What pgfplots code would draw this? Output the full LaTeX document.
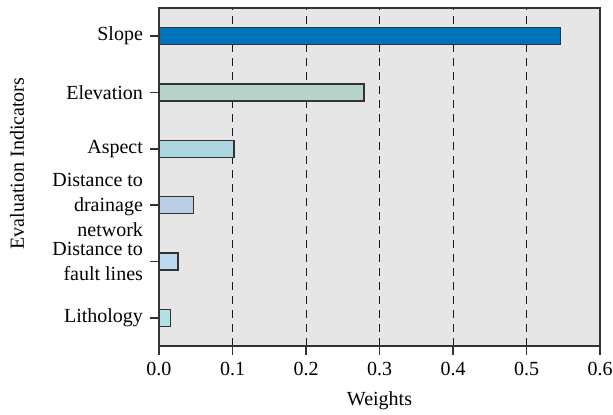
\documentclass[border=0pt]{standalone}
\usepackage{fontspec}
\setmainfont{Liberation Serif}
\usepackage{pgfplots}
\pgfplotsset{compat=1.18}
\definecolor{bgc}{HTML}{E6E6E6}
\definecolor{axc}{HTML}{333333}
\definecolor{cslope}{HTML}{0072BC}
\definecolor{celev}{HTML}{B6D4CC}
\definecolor{caspect}{HTML}{ADD6E0}
\definecolor{cdrain}{HTML}{B9CFE6}
\definecolor{cfault}{HTML}{BBD8EE}
\definecolor{clitho}{HTML}{B4DFE4}
\begin{document}
\fontsize{10}{12.5}\selectfont
\begin{tikzpicture}
\begin{axis}[
  scale only axis,
  width=220.5pt, height=169pt,
  xmin=0, xmax=0.6, ymin=-0.5, ymax=5.5,
  axis background/.style={fill=bgc},
  xtick={0,0.1,0.2,0.3,0.4,0.5,0.6},
  xticklabel style={/pgf/number format/fixed, /pgf/number format/fixed zerofill, /pgf/number format/precision=1, font=\fontsize{10}{12.5}\selectfont},
  /pgf/number format/assume math mode=true,
  ytick={0,1,2,3,4,5},
  yticklabels={Lithology, {Distance to\\fault lines}, {Distance to\\drainage\\network}, Aspect, Elevation, Slope},
  yticklabel style={align=right, font=\fontsize{10}{12.5}\selectfont},
  tick align=outside,
  major tick length=4.5pt,
  tick pos=left,
  tick style={axc, line width=0.7pt},
  axis line style={axc, line width=0.75pt},
  xmajorgrids,
  major x grid style={black!90, dash pattern=on 4pt off 3pt, line width=0.5pt},
  xlabel={Weights},
  ylabel={Evaluation Indicators},
  label style={font=\fontsize{10}{12.5}\selectfont},
  every axis y label/.style={at={(axis description cs:-0.322,0.54)}, rotate=90, anchor=center},
  every axis x label/.style={at={(axis description cs:0.5,0)}, anchor=center, yshift=-27.5pt},
]
\addplot[xbar, bar width=8.5pt, bar shift=0pt, draw=axc, line width=0.7pt, fill=cslope] coordinates {(0.546,5)};
\addplot[xbar, bar width=8.5pt, bar shift=0pt, draw=axc, line width=0.7pt, fill=celev] coordinates {(0.279,4)};
\addplot[xbar, bar width=8.5pt, bar shift=0pt, draw=axc, line width=0.7pt, fill=caspect] coordinates {(0.102,3)};
\addplot[xbar, bar width=8.5pt, bar shift=0pt, draw=axc, line width=0.7pt, fill=cdrain] coordinates {(0.047,2)};
\addplot[xbar, bar width=8.5pt, bar shift=0pt, draw=axc, line width=0.7pt, fill=cfault] coordinates {(0.026,1)};
\addplot[xbar, bar width=8.5pt, bar shift=0pt, draw=axc, line width=0.7pt, fill=clitho] coordinates {(0.016,0)};
\end{axis}
\pgfresetboundingbox
\path[use as bounding box] ([xshift=-79.5pt,yshift=-34.5pt]current axis.south west) rectangle ([xshift=6.5pt,yshift=4pt]current axis.north east);
\end{tikzpicture}
\end{document}
